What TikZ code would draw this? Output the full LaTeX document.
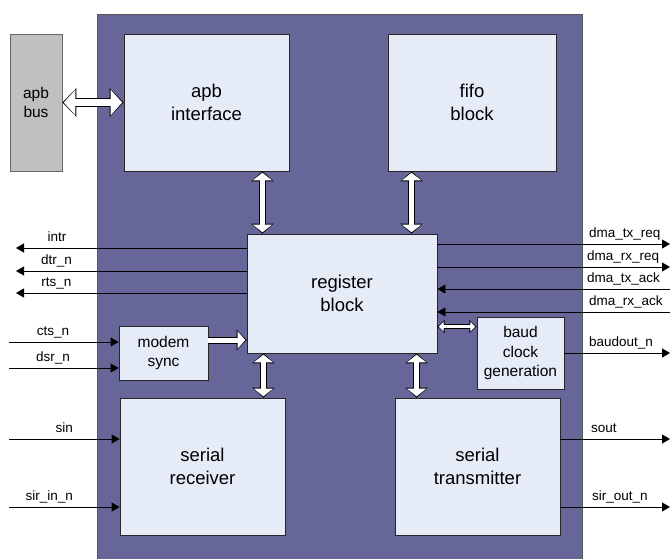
\documentclass[tikz,border=0pt]{standalone}
\usepackage{fontspec}
\setmainfont{Liberation Sans}
\usetikzlibrary{arrows.meta}

\definecolor{chipfill}{RGB}{102,102,153}
\definecolor{blkfill}{RGB}{230,236,247}
\definecolor{busfill}{RGB}{192,192,192}

\begin{document}
\begin{tikzpicture}[x=1pt, y=-1pt,
    every node/.style={font=\fontsize{18.5}{22.5}\selectfont},
    chip/.style={rectangle, draw=black!65, line width=0.8pt, fill=chipfill, inner sep=0pt},
    blk/.style={rectangle, draw=black!85, line width=0.8pt, fill=blkfill, align=center, inner sep=0pt},
    smallblk/.style={blk, font=\fontsize{15.5}{19.5}\selectfont},
    bus/.style={smallblk, fill=busfill, draw=black!60},
    lbl/.style={font=\fontsize{13.5}{16}\selectfont, inner sep=0pt, anchor=base},
    sig/.style={-{Triangle[length=8pt, width=9pt]}, line width=0.8pt},
    bigfat/.style={white, line width=7pt, {Triangle[length=11.6pt, width=25pt]}-{Triangle[length=11.6pt, width=25pt]},
        shorten <=1.4pt, shorten >=1.4pt,
        preaction={draw=black, line width=9pt, {Triangle[length=14pt, width=28pt]}-{Triangle[length=14pt, width=28pt]},
        shorten <=0pt, shorten >=0pt}},
    fat/.style={white, line width=5pt, {Triangle[length=7.7pt, width=19pt]}-{Triangle[length=7.7pt, width=19pt]},
        shorten <=1.35pt, shorten >=1.35pt,
        preaction={draw=black, line width=7pt, {Triangle[length=10pt, width=22pt]}-{Triangle[length=10pt, width=22pt]},
        shorten <=0pt, shorten >=0pt}},
    smallfat/.style={white, line width=3pt, {Triangle[length=5pt, width=9.5pt]}-{Triangle[length=5pt, width=9.5pt]},
        shorten <=1.3pt, shorten >=1.3pt,
        preaction={draw=black, line width=5pt, {Triangle[length=7.2pt, width=12.5pt]}-{Triangle[length=7.2pt, width=12.5pt]},
        shorten <=0pt, shorten >=0pt}},
    onefat/.style={white, line width=5pt, -{Triangle[length=7.7pt, width=17pt]}, shorten >=1.35pt,
        preaction={draw=black, line width=7pt, -{Triangle[length=10pt, width=20pt]}, shorten >=0pt}}]

  \useasboundingbox (0,0) rectangle (670,558);

  % chip outline
  \node[chip, anchor=north west, minimum width=485pt, minimum height=560pt] (uart) at (97,14) {};

  % blocks
  \node[bus, minimum width=52pt, minimum height=137pt]       (bus)   at (36,102.5)  {apb\\bus};
  \node[blk, minimum width=165pt, minimum height=137pt]      (apbif) at (206.5,102.5) {apb\\interface};
  \node[blk, minimum width=168pt, minimum height=137pt]      (fifo)  at (472,102.5) {fifo\\block};
  \node[blk, minimum width=190pt, minimum height=119pt]      (reg)   at (342,293.5) {register\\block};
  \node[smallblk, minimum width=89pt, minimum height=54pt]   (modem) at (163.5,353) {modem\\sync};
  \node[smallblk, minimum width=87pt, minimum height=72pt]   (baud)  at (520.5,353) {baud\\clock\\generation};
  \node[blk, minimum width=165pt, minimum height=137pt]      (rx)    at (202.5,466.5) {serial\\receiver};
  \node[blk, minimum width=165pt, minimum height=137pt]      (tx)    at (477.5,466.5) {serial\\transmitter};

  % internal buses
  \draw[bigfat] (bus) -- (apbif);
  \draw[fat] ([xshift=-27pt]apbif.south east) -- ([xshift=-27pt]apbif.south east |- reg.north);
  \draw[fat] ([xshift=24pt]fifo.south west) -- ([xshift=24pt]fifo.south west |- reg.north);
  \draw[fat] ([xshift=-22pt]rx.north east |- reg.south) -- ([xshift=-22pt]rx.north east);
  \draw[fat] ([xshift=22pt]tx.north west |- reg.south) -- ([xshift=22pt]tx.north west);
  \draw[onefat] ([yshift=13pt]modem.east) -- ([yshift=13pt]modem.east -| reg.west);
  \draw[smallfat] ([yshift=-10pt]baud.north west -| reg.east) -- ([yshift=-10pt]baud.north west);

  % pins, left side
  \coordinate (intr) at (16,248);
  \coordinate (dtr)  at (16,271);
  \coordinate (rts)  at (16,293);
  \coordinate (cts)  at (9,342);
  \coordinate (dsr)  at (9,368);
  \coordinate (sin)  at (9,439);
  \coordinate (sirin) at (9,507);

  \draw[sig] (reg.west |- intr) -- (intr);
  \draw[sig] (reg.west |- dtr) -- (dtr);
  \draw[sig] (reg.west |- rts) -- (rts);
  \draw[sig] (cts) -- (modem.west |- cts);
  \draw[sig] (dsr) -- (modem.west |- dsr);
  \draw[sig] (sin) -- (rx.west |- sin);
  \draw[sig] (sirin) -- (rx.west |- sirin);

  \node[lbl] (intrlbl)  at (57,241)   {intr};
  \node[lbl] (dtrlbl)   at (56.5,264) {dtr\_n};
  \node[lbl] (rtslbl)   at (56.5,286) {rts\_n};
  \node[lbl] (ctslbl)   at (53,335)   {cts\_n};
  \node[lbl] (dsrlbl)   at (53,361)   {dsr\_n};
  \node[lbl, anchor=base east] (sinlbl)   at (73,432) {sin};
  \node[lbl, anchor=base east] (sirinlbl) at (73,500) {sir\_in\_n};

  % pins, right side
  \coordinate (txreq) at (670,244);
  \coordinate (rxreq) at (670,267);
  \coordinate (txack) at (670,289);
  \coordinate (rxack) at (670,312);
  \coordinate (baudout) at (670,353);
  \coordinate (sout)  at (670,439);
  \coordinate (sirout) at (670,507);

  \draw[sig] (reg.east |- txreq) -- (txreq);
  \draw[sig] (reg.east |- rxreq) -- (rxreq);
  \draw[sig] (txack) -- (reg.east |- txack);
  \draw[sig] (rxack) -- (reg.east |- rxack);
  \draw[sig] (baud.east) -- (baudout);
  \draw[sig] (tx.east |- sout) -- (sout);
  \draw[sig] (tx.east |- sirout) -- (sirout);

  \node[lbl, anchor=base west] (txreqlbl) at (589,237) {dma\_tx\_req};
  \node[lbl, anchor=base west] (rxreqlbl) at (587,260) {dma\_rx\_req};
  \node[lbl, anchor=base west] (txacklbl) at (587,282) {dma\_tx\_ack};
  \node[lbl, anchor=base west] (rxacklbl) at (589,305) {dma\_rx\_ack};
  \node[lbl, anchor=base west] (baudlbl)  at (589,346) {baudout\_n};
  \node[lbl, anchor=base west] (soutlbl)  at (591,432) {sout};
  \node[lbl, anchor=base west] (siroutlbl) at (592,500) {sir\_out\_n};
\end{tikzpicture}
\end{document}
